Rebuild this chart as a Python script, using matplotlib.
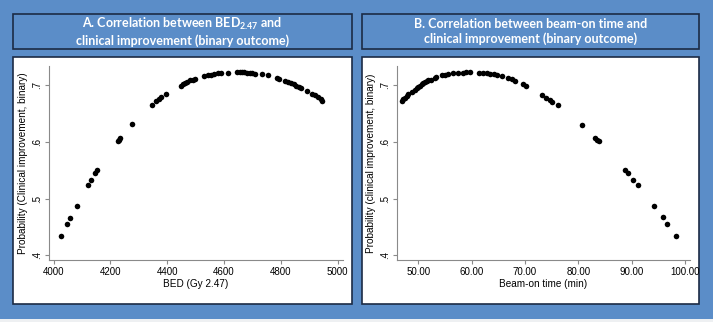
import matplotlib
matplotlib.use('Agg')
import matplotlib.pyplot as plt
from matplotlib.patches import Rectangle

# panel A: BED vs predicted probability
bed = [4027, 4047, 4058, 4082, 4123, 4132, 4147, 4154, 4226, 4230, 4234, 4275,
       4346, 4362, 4370, 4379, 4395, 4448, 4455, 4462, 4470, 4482, 4490, 4497,
       4530, 4543, 4553, 4565, 4578, 4590, 4613, 4647, 4655, 4663, 4670, 4680,
       4690, 4700, 4708, 4735, 4755, 4785, 4795, 4815, 4825, 4835, 4845, 4855,
       4865, 4872, 4893, 4910, 4920, 4930, 4940, 4945]
prob_bed = [.435, .455, .466, .487, .524, .532, .545, .550, .602, .604, .607, .631,
            .665, .672, .676, .679, .684, .699, .701, .703, .705, .708, .709, .711,
            .715, .717, .718, .719, .721, .721, .722, .723, .723, .723, .723, .722,
            .722, .721, .720, .719, .717, .713, .711, .707, .705, .703, .701, .699,
            .697, .695, .689, .685, .682, .679, .675, .672]

# panel B: beam-on time vs predicted probability
beam = [46.9, 47.2, 47.5, 47.8, 48.1, 48.9, 49.4, 49.7, 50.0, 50.3, 50.6, 50.9,
        51.3, 51.6, 51.9, 52.4, 53.1, 53.4, 54.5, 55.0, 55.6, 56.5, 57.4, 58.3,
        59.0, 59.7, 61.4, 62.2, 62.8, 63.4, 64.1, 64.7, 65.6, 66.9, 67.5, 68.1,
        69.7, 70.1, 73.1, 74.0, 74.6, 75.1, 76.1, 80.6, 83.1, 83.5, 83.9, 88.75,
        89.25, 90.3, 91.1, 94.1, 95.9, 96.7, 98.4]
prob_beam = [.671, .675, .678, .681, .684, .688, .692, .695, .697, .699, .701, .703,
             .705, .707, .708, .709, .712, .714, .717, .718, .719, .721, .722, .722,
             .723, .723, .722, .722, .721, .720, .719, .718, .715, .712, .710, .707,
             .701, .698, .683, .677, .674, .670, .665, .630, .607, .604, .601, .551,
             .545, .532, .524, .487, .467, .455, .435]

bg = '#5b8dc8'
edge = '#1c2b45'

plt.rcParams['mathtext.fontset'] = 'custom'
plt.rcParams['mathtext.bf'] = 'Lato:bold'

fig = plt.figure(figsize=(7.13, 3.22), dpi=100)
fig.patch.set_facecolor('#eef0f2')
W, H = 713.0, 322.0

def box(x0, y0, x1, y1, fc, ec=None, lw=1.2):
    r = Rectangle((x0 / W, 1 - y1 / H), (x1 - x0) / W, (y1 - y0) / H,
                  transform=fig.transFigure, facecolor=fc,
                  edgecolor=ec if ec else fc, linewidth=lw if ec else 0,
                  zorder=-5)
    fig.patches.append(r)

box(0, 0, 713, 319, bg)
box(13, 14, 352, 49, bg, edge)
box(362, 14, 699, 49, bg, edge)
box(13, 57, 352, 304, 'white', edge)
box(362, 57, 699, 304, 'white', edge)

tfont = dict(family=['Lato', 'DejaVu Sans'], weight='bold', color='white',
             fontsize=9, ha='center', va='center', linespacing=1.2)
fig.text(182.5 / W, 1 - 31.5 / H,
         'A. Correlation between BED$_{\\mathbf{2.47}}$ and\nclinical improvement (binary outcome)',
         **tfont)
fig.text(530.5 / W, 1 - 31.5 / H,
         'B. Correlation between beam-on time and\nclinical improvement (binary outcome)',
         **tfont)

ax1 = fig.add_axes([49.3 / W, 1 - 260 / H, (342.7 - 49.3) / W, (260 - 66.5) / H])
ax2 = fig.add_axes([396.7 / W, 1 - 260 / H, (690 - 396.7) / W, (260 - 66.5) / H])

lab = dict(fontsize=7.2, family='Liberation Sans')

for ax in (ax1, ax2):
    ax.patch.set_alpha(0)
    for s in ('top', 'right'):
        ax.spines[s].set_visible(False)
    for s in ('left', 'bottom'):
        ax.spines[s].set_color('#8a8a8a')
        ax.spines[s].set_linewidth(0.8)
    ax.tick_params(direction='out', length=3, width=0.8, color='#8a8a8a',
                   labelsize=7, pad=2)
    ax.set_ylim(0.392, 0.7326)
    ax.set_yticks([.4, .5, .6, .7])
    ax.set_yticklabels(['.4', '.5', '.6', '.7'], rotation=90, va='center',
                       family='Liberation Sans')

ax1.scatter(bed, prob_bed, s=16, color='black', linewidths=0, zorder=3)
ax1.set_xlim(3985, 5018)
ax1.set_xticks([4000, 4200, 4400, 4600, 4800, 5000])
ax1.set_xticklabels(['4000', '4200', '4400', '4600', '4800', '5000'],
                    family='Liberation Sans')
ax1.set_xlabel('BED (Gy 2.47)', labelpad=1.5, **lab)
ax1.set_ylabel('Probability (Clinical improvement, binary)', labelpad=3, **lab)

ax2.scatter(beam, prob_beam, s=16, color='black', linewidths=0, zorder=3)
ax2.set_xlim(45.94, 100.94)
ax2.set_xticks([50, 60, 70, 80, 90, 100])
ax2.set_xticklabels(['50.00', '60.00', '70.00', '80.00', '90.00', '100.00'],
                    family='Liberation Sans')
ax2.set_xlabel('Beam-on time (min)', labelpad=1.5, **lab)
ax2.set_ylabel('Probability (clinical improvement, binary)', labelpad=3, **lab)

fig.savefig('out.png', dpi=100, facecolor=fig.get_facecolor())
